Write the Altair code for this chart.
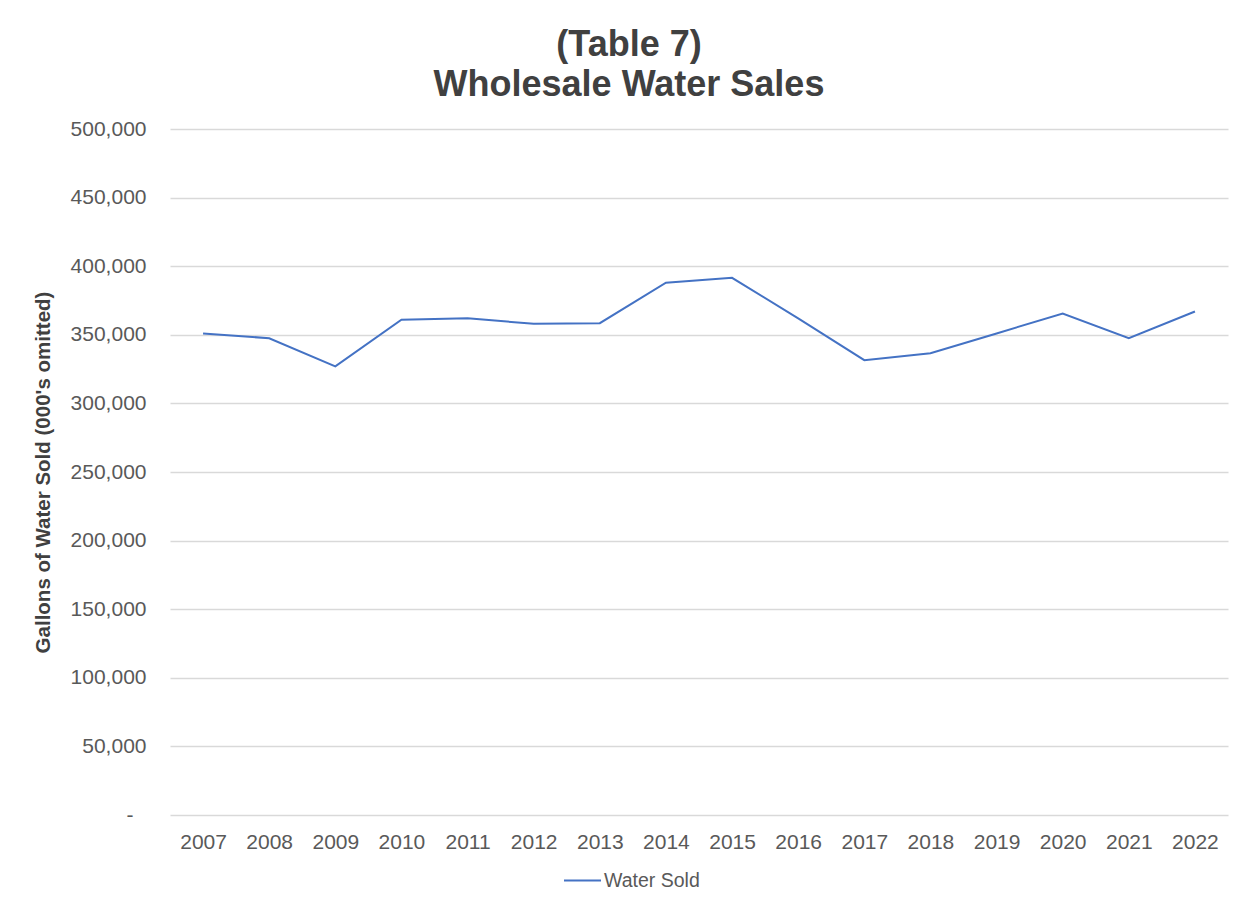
import altair as alt
import pandas as pd

years = ["2007", "2008", "2009", "2010", "2011", "2012", "2013", "2014",
         "2015", "2016", "2017", "2018", "2019", "2020", "2021", "2022"]
water_sold = [351000, 347500, 327000, 361000, 362000, 358000, 358500, 388000,
              391500, 362000, 331500, 336500, 351000, 365500, 347500, 367000]
series_name = "Water Sold"
y_ticks = [0, 50000, 100000, 150000, 200000, 250000, 300000, 350000, 400000, 450000, 500000]

df = pd.DataFrame({"Year": years, "Gallons": water_sold, "Series": [series_name] * len(years)})

FONT = "Liberation Sans"

chart = alt.Chart(df).mark_line(strokeWidth=2, color="#4472C4").encode(
    x=alt.X("Year:N", sort=years,
            scale=alt.Scale(type="point", padding=0.5),
            axis=alt.Axis(title=None, labelAngle=0, domain=False, ticks=False,
                          grid=False, labelPadding=16, labelFontSize=21,
                          labelColor="#595959", labelFont=FONT)),
    y=alt.Y("Gallons:Q",
            scale=alt.Scale(domain=[0, 500000], nice=False, zero=True),
            axis=alt.Axis(title="Gallons of Water Sold (000's omitted)",
                          values=y_ticks, domain=False, ticks=False,
                          gridColor="#d9d9d9", gridWidth=1.3,
                          labelPadding={"condition": {"test": "datum.value == 0", "value": 37},
                                        "value": 24},
                          labelFontSize=21, labelColor="#595959",
                          labelFont=FONT,
                          labelExpr="datum.value == 0 ? '-' : format(datum.value, ',')",
                          titleFont=FONT, titleFontSize=20.5, titleFontWeight="bold",
                          titleColor="#404040", titleX=-127, titleY=343,
                          titleBaseline="middle", titleAngle=270)),
    stroke=alt.Stroke("Series:N",
                      scale=alt.Scale(domain=[series_name], range=["#4472C4"]),
                      legend=alt.Legend(title=None, orient="none", legendX=393, legendY=732,
                                        symbolType="stroke", symbolSize=1369,
                                        symbolStrokeWidth=2, labelFontSize=19.5,
                                        labelColor="#595959", labelFont=FONT,
                                        labelOffset=2)),
).properties(
    width=1058,
    height=686,
    padding={"left": 170, "top": 129, "right": 16, "bottom": 88},
    autosize=alt.AutoSizeParams(type="none"),
    background="white",
    title=alt.TitleParams(text=["(Table 7)", "Wholesale Water Sales"],
                          font=FONT, fontSize=36, fontWeight="bold", color="#404040",
                          anchor="middle", dx=-70, offset=14, lineHeight=40),
).configure_view(stroke=None)

chart.save("out.html", embed_options={"renderer": "svg", "actions": False})
